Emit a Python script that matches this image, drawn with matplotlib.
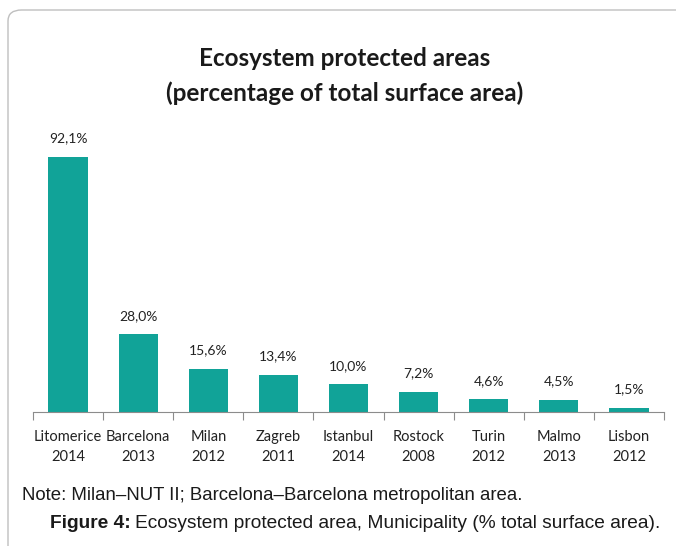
import matplotlib
matplotlib.use("Agg")
import matplotlib.pyplot as plt
from matplotlib.patches import FancyBboxPatch

cities = ["Litomerice", "Barcelona", "Milan", "Zagreb", "Istanbul", "Rostock", "Turin", "Malmo", "Lisbon"]
years = ["2014", "2013", "2012", "2011", "2014", "2008", "2012", "2013", "2012"]
values = [92.1, 28.0, 15.6, 13.4, 10.0, 7.2, 4.6, 4.5, 1.5]

W, H = 676, 546
fig = plt.figure(figsize=(W / 100, H / 100), dpi=100)

# rounded frame
frame = FancyBboxPatch((8 / W, -0.2), 1.2, (H - 10) / H + 0.2,
                       boxstyle="round,pad=0,rounding_size=0.02",
                       transform=fig.transFigure, fill=False,
                       edgecolor="#bfbfbf", linewidth=1.0)
fig.patches.append(frame)

left, right = 33 / W, 664 / W
bottom, top = 1 - 412 / H, 1 - 135 / H
ax = fig.add_axes([left, bottom, right - left, top - bottom])

x = list(range(len(cities)))
ax.bar(x, values, width=0.56, color="#11A398")
ax.set_xlim(-0.5, len(cities) - 0.5)
ax.set_ylim(0, 100)

for xi, v in zip(x, values):
    ax.annotate(f"{v:.1f}%".replace(".", ","), (xi, v), xytext=(0, 9),
                textcoords="offset points", ha="center", va="bottom",
                fontsize=10, family="Lato", color="#222222")

for s in ["top", "right", "left"]:
    ax.spines[s].set_visible(False)
ax.spines["bottom"].set_color("#8c8c8c")
ax.set_yticks([])
ax.set_xticks([i - 0.5 for i in range(len(cities) + 1)], minor=False)
ax.set_xticklabels([])
ax.tick_params(axis="x", length=6, color="#8c8c8c", direction="out")
ax.set_xticks(x, minor=True)
ax.set_xticklabels([f"{c}\n{y}" for c, y in zip(cities, years)], minor=True,
                   fontsize=10.5, family="Lato", color="#222222", linespacing=1.55)
ax.tick_params(axis="x", which="minor", length=0, pad=13)

fig.text(345 / W, 1 - 76 / H, "Ecosystem protected areas\n(percentage of total surface area)",
         ha="center", va="center", fontsize=17.5, fontweight="bold", family="Lato",
         color="#1a1a1a", linespacing=1.6)

fig.text(22 / W, 1 - 495 / H, "Note: Milan\u2013NUT II; Barcelona\u2013Barcelona metropolitan area.",
         ha="left", va="center", fontsize=13.4, family="Liberation Sans", color="#1a1a1a")
t1 = fig.text(50 / W, 1 - 524 / H, "Figure 4:", ha="left", va="center", fontsize=13.8,
              family="Liberation Sans", fontweight="bold", color="#1a1a1a")
fig.canvas.draw()
bb = t1.get_window_extent()
fig.text((bb.x1 + 4) / W, 1 - 524 / H, "Ecosystem protected area, Municipality (% total surface area).",
         ha="left", va="center", fontsize=13.8, family="Liberation Sans", color="#1a1a1a")

fig.savefig("out.png", dpi=100)
